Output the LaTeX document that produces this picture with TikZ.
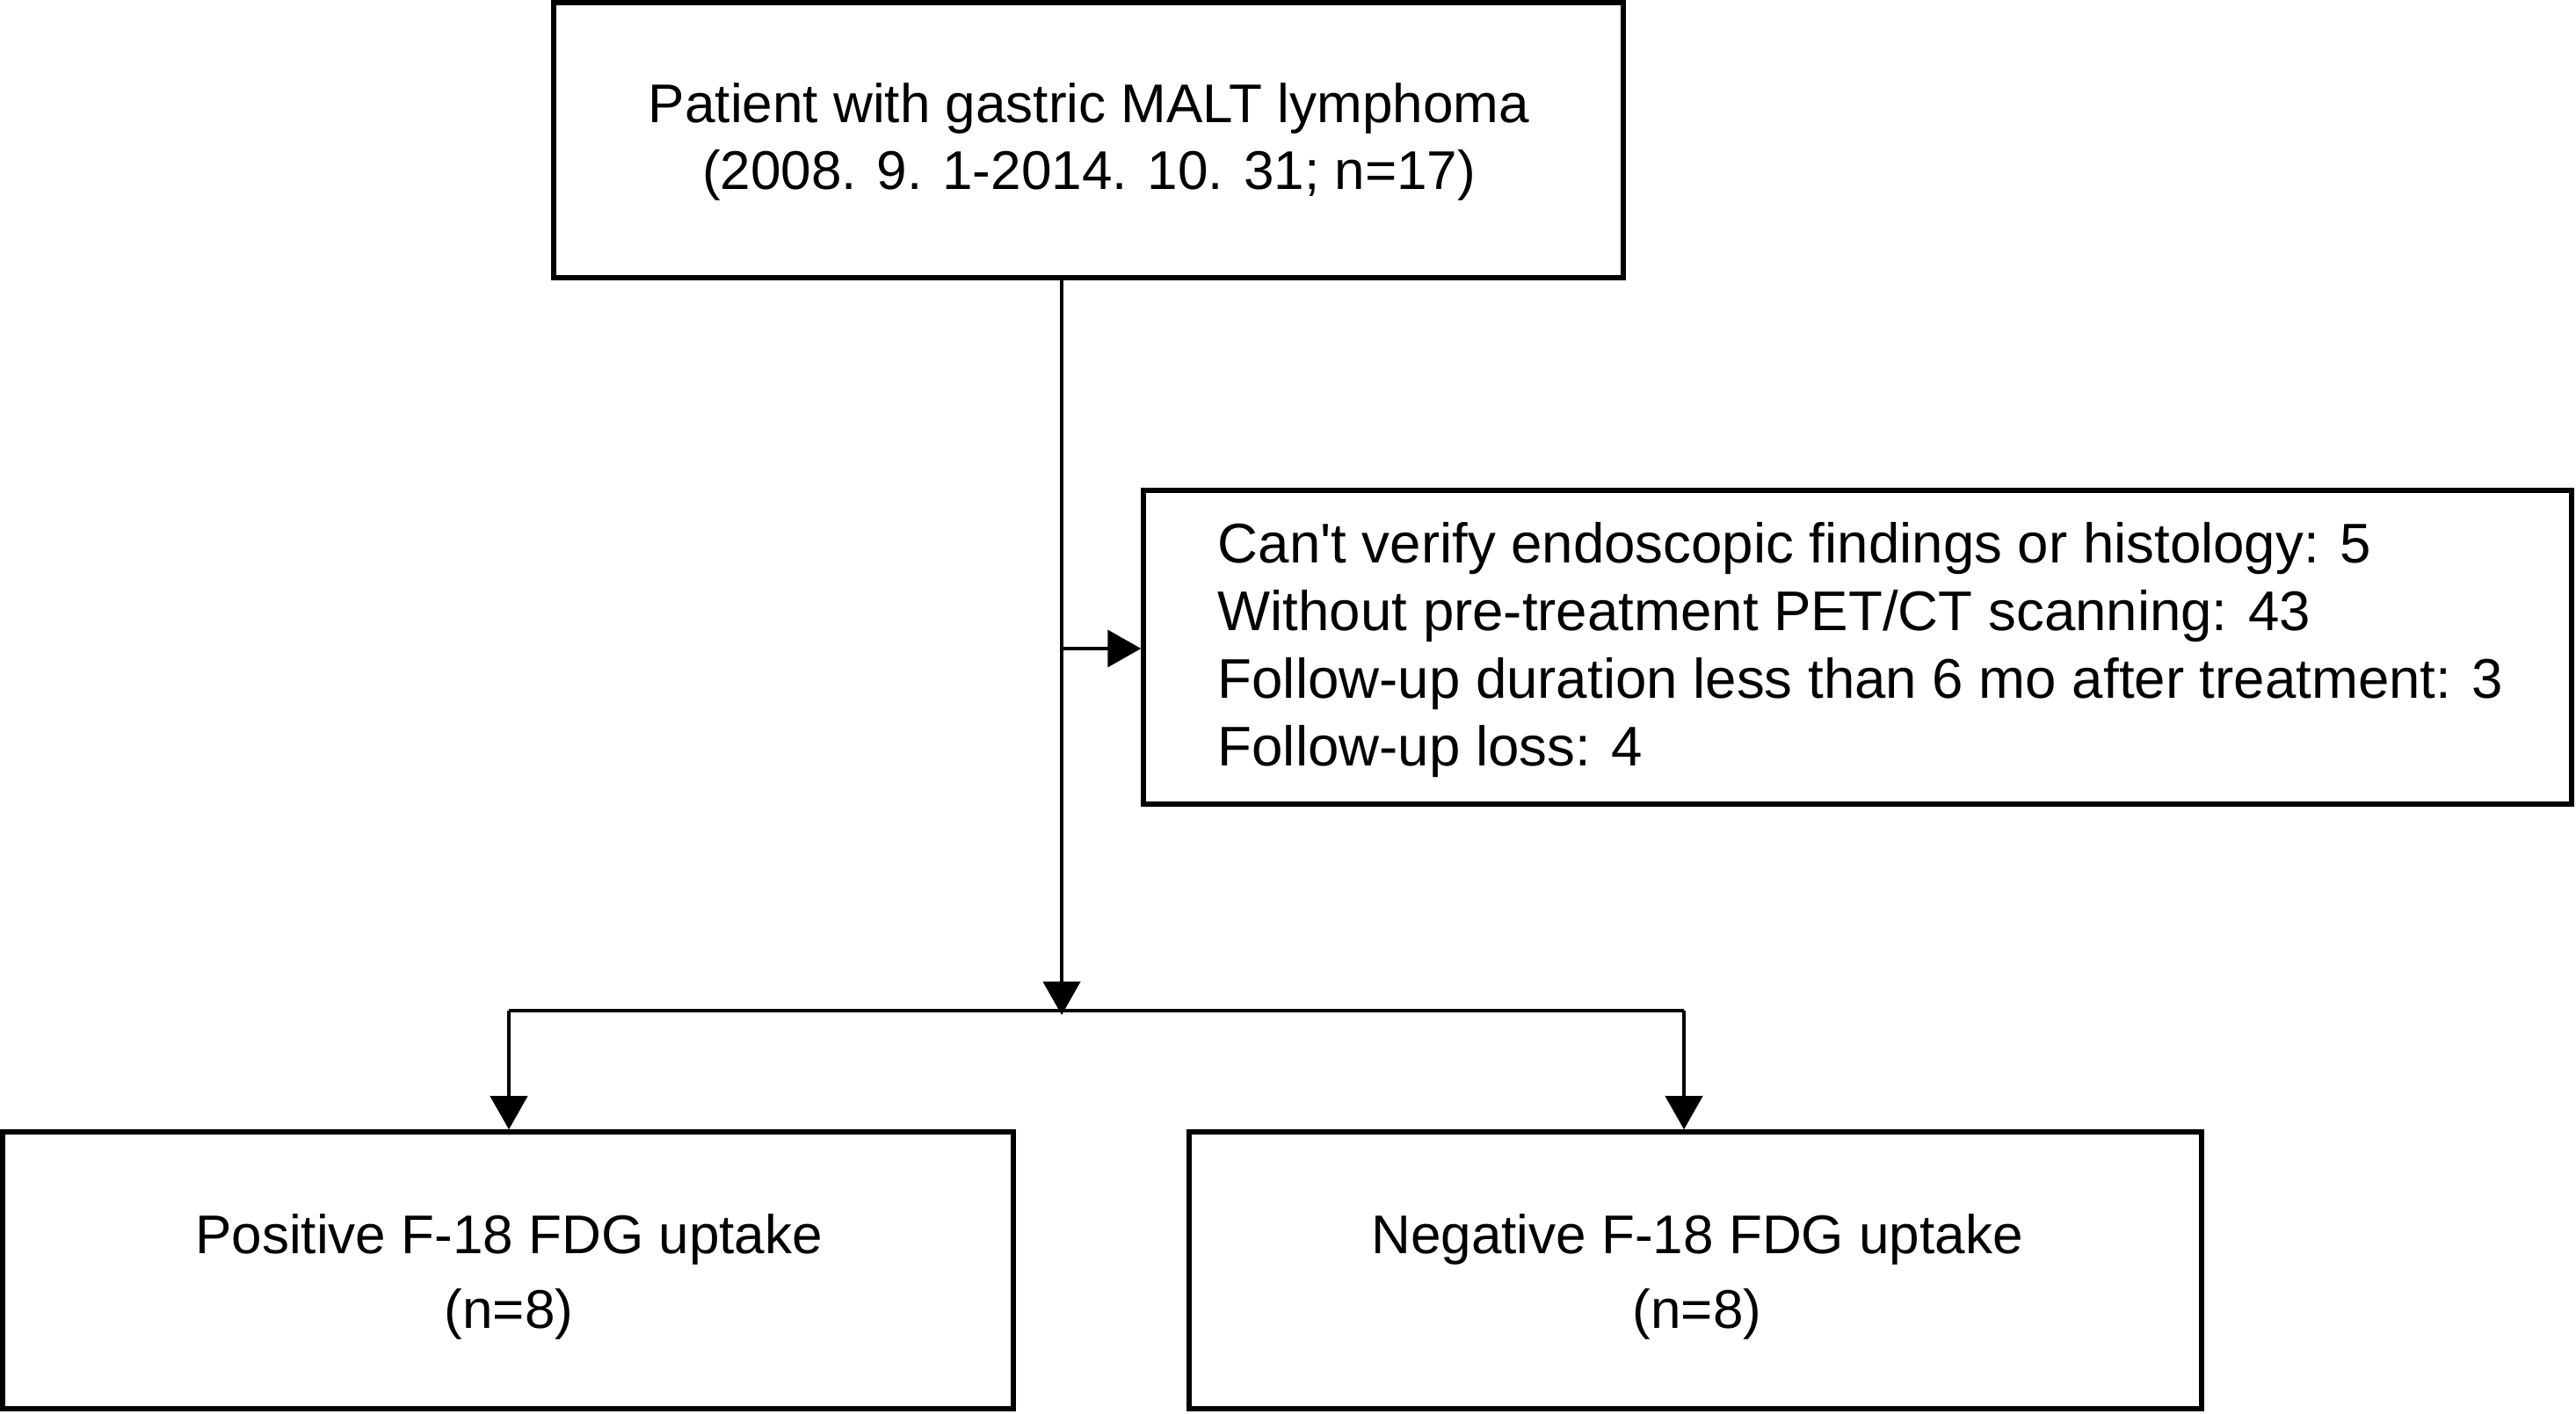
\documentclass[tikz,border=0pt]{standalone}
\usepackage{fontspec}
\setmainfont{Liberation Sans}
\usetikzlibrary{arrows.meta}
\begin{document}
\begin{tikzpicture}
\tikzset{
  box/.style={draw=black, line width=0.055cm, rectangle, inner sep=0pt, fill=none},
  big/.style={font=\fontsize{17.65pt}{21pt}\selectfont, inner sep=0pt},
  small/.style={font=\fontsize{18.1pt}{22pt}\selectfont, inner sep=0pt},
  conn/.style={draw=black, line width=0.04cm},
  arr/.style={conn, -{Triangle[width=0.42cm,length=0.38cm]}}
}
\useasboundingbox (0,0) rectangle (29.31,16.08);
\fill[white] (0,0) rectangle (29.31,16.08);

% boxes
\node[box, minimum width=12.17cm, minimum height=3.13cm] (top) at (12.385,14.485) {};
\node[box, minimum width=16.25cm, minimum height=3.57cm] (excl) at (21.135,8.715) {};
\node[box, minimum width=11.50cm, minimum height=3.15cm] (pos) at (5.78,1.625) {};
\node[box, minimum width=11.52cm, minimum height=3.15cm] (neg) at (19.29,1.625) {};

% texts
\node[big, anchor=base] (t1) at (12.39,14.68) {Patient with gastric MALT lymphoma};
\node[big, anchor=base] (t2) at (12.39,13.92) {(2008. 9. 1-2014. 10. 31; n=17)};

\node[small, anchor=base west] (e1) at (13.85,9.67) {Can\textquotesingle t verify endoscopic findings or histology: 5};
\node[small, anchor=base west] (e2) at (13.85,8.90) {Without pre-treatment PET/CT scanning: 43};
\node[small, anchor=base west] (e3) at (13.85,8.13) {Follow-up duration less than 6 mo after treatment: 3};
\node[small, anchor=base west] (e4) at (13.85,7.36) {Follow-up loss: 4};

\node[big, anchor=base] (p1) at (5.79,1.82) {Positive F-18 FDG uptake};
\node[big, anchor=base] (p2) at (5.79,0.97) {(n=8)};
\node[big, anchor=base] (n1) at (19.31,1.82) {Negative F-18 FDG uptake};
\node[big, anchor=base] (n2) at (19.31,0.97) {(n=8)};

% connectors
\coordinate (vtop) at (12.08,12.92);
\coordinate (split) at (12.08,4.53);
\coordinate (branch) at (12.08,8.70);
\coordinate (hl) at (5.79,4.58);
\coordinate (hr) at (19.16,4.58);

\draw[conn] (top.south -| vtop) -- (branch);
\draw[arr] (branch) -- (branch -| excl.west);
\draw[arr] (branch) -- (split);
\draw[conn] (hl) -- (hr);
\draw[arr] (hl) -- (hl |- pos.north);
\draw[arr] (hr) -- (hr |- neg.north);
\end{tikzpicture}
\end{document}
